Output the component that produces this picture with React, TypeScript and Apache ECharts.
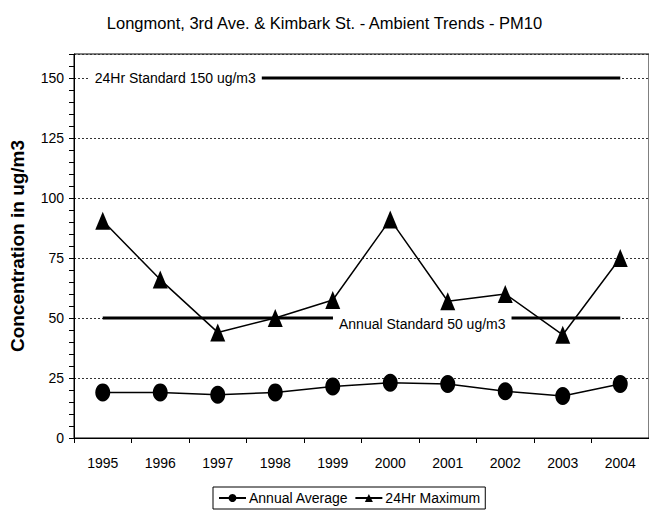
import React, { useEffect, useRef } from "react";
import * as echarts from "echarts";

const years = ["1995", "1996", "1997", "1998", "1999", "2000", "2001", "2002", "2003", "2004"];
const annualAverage = [19, 19, 18, 19, 21.5, 23, 22.5, 19.5, 17.5, 22.5];
const max24Hr = [90.5, 66, 44, 50, 57.5, 91, 57, 60, 43, 75];
const standard24Hr = [150, 150, 150, 150, 150, 150, 150, 150, 150, 150];
const standardAnnual = [50, 50, 50, 50, 50, 50, 50, 50, 50, 50];
const yMin = 0;
const yMax = 160;

const FONT = "'Liberation Sans', Arial, sans-serif";

export default function App() {
  const ref = useRef<HTMLDivElement>(null);
  useEffect(() => {
    if (!ref.current) return;
    const chart = echarts.init(ref.current, null, { renderer: "svg" });
    const stdLabel = (text: string, offset: number[]) => ({
      show: true,
      position: "inside",
      formatter: text,
      offset,
      backgroundColor: "#fff",
      padding: [3, 6],
      color: "#000",
      fontSize: 14,
      fontFamily: FONT,
    });
    chart.setOption({
      animation: false,
      backgroundColor: "#fff",
      textStyle: { fontFamily: FONT, color: "#000" },
      title: {
        text: "Longmont, 3rd Ave. & Kimbark St. - Ambient Trends - PM10",
        left: "center",
        top: 9,
        textStyle: { fontSize: 16.5, fontWeight: "normal", color: "#000", fontFamily: FONT },
      },
      grid: {
        left: 73,
        right: -1,
        top: 54,
        bottom: 75,
        show: true,
        borderColor: "#000",
        borderWidth: 1,
        backgroundColor: "rgba(0,0,0,0)",
      },
      legend: {
        data: ["Annual Average", "24Hr Maximum"],
        left: 213,
        top: 487,
        borderColor: "#000",
        borderWidth: 1,
        borderRadius: 0,
        padding: [4, 5],
        itemGap: 6,
        itemWidth: 27,
        itemHeight: 10,
        textStyle: { fontSize: 14, color: "#000", fontFamily: FONT, padding: [0, 0, 0, -2] },
      },
      xAxis: [
        {
          type: "category",
          data: years,
          boundaryGap: true,
          z: 3,
          axisLine: { onZero: false, lineStyle: { color: "#000", width: 1 } },
          axisTick: { show: true, length: 5, lineStyle: { color: "#000" } },
          axisLabel: { color: "#000", fontSize: 14, margin: 18, fontFamily: FONT },
          splitLine: { show: false },
        },
      ],
      yAxis: [
        {
          type: "value",
          min: yMin,
          max: yMax,
          interval: 5,
          position: "left",
          z: 3,
          axisLine: { show: true, onZero: false, lineStyle: { color: "#000", width: 1 } },
          axisTick: { show: true, length: 5, lineStyle: { color: "#000" } },
          axisLabel: { show: false },
          splitLine: { show: false },
        },
        {
          type: "value",
          min: yMin,
          max: yMax,
          interval: 25,
          position: "left",
          z: 0,
          name: "Concentration in ug/m3",
          nameLocation: "middle",
          nameGap: 47,
          nameTextStyle: { fontSize: 19, fontWeight: "bold", color: "#000", fontFamily: FONT },
          axisLine: { show: false },
          axisTick: { show: false },
          axisLabel: { color: "#000", fontSize: 14, margin: 10, showMaxLabel: false, fontFamily: FONT },
          splitLine: { show: true, lineStyle: { color: "#333", type: [2, 2], width: 1 } },
        },
      ],
      series: [
        {
          name: "24Hr Standard",
          type: "line",
          data: standard24Hr,
          symbol: "none",
          lineStyle: { color: "#000", width: 3 },
          silent: true,
          markPoint: {
            symbol: "rect",
            symbolSize: 1,
            itemStyle: { color: "rgba(0,0,0,0)" },
            label: stdLabel("24Hr Standard 150 ug/m3", [15, 0]),
            data: [{ coord: ["1996", 150] }],
          },
        },
        {
          name: "Annual Standard",
          type: "line",
          data: standardAnnual,
          symbol: "none",
          lineStyle: { color: "#000", width: 3 },
          silent: true,
          markPoint: {
            symbol: "rect",
            symbolSize: 1,
            itemStyle: { color: "rgba(0,0,0,0)" },
            label: stdLabel("Annual Standard 50 ug/m3", [32, 6]),
            data: [{ coord: ["2000", 50] }],
          },
        },
        {
          name: "Annual Average",
          type: "line",
          data: annualAverage,
          symbol: "circle",
          symbolSize: [15, 18],
          itemStyle: { color: "#000" },
          lineStyle: { color: "#000", width: 1.5 },
        },
        {
          name: "24Hr Maximum",
          type: "line",
          data: max24Hr,
          symbol: "triangle",
          symbolSize: [15, 18],
          itemStyle: { color: "#000" },
          lineStyle: { color: "#000", width: 1.5 },
        },
      ],
    });
    return () => chart.dispose();
  }, []);
  return <div ref={ref} style={{ width: 649, height: 513, position: "absolute", left: 0, top: 0 }} />;
}
